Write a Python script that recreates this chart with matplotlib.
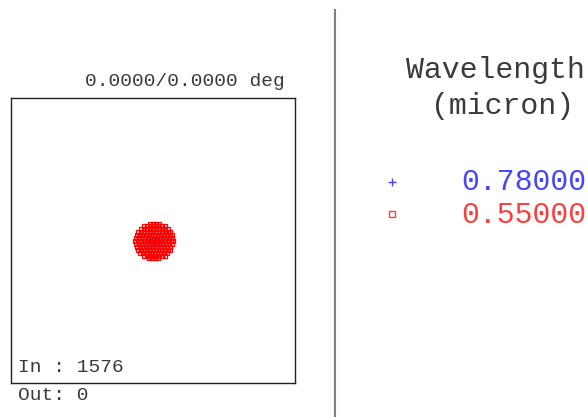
import matplotlib
matplotlib.use("Agg")
import matplotlib.pyplot as plt

# spot diagram rows: y position -> x positions of the rays (um)
spot_rows = {
    17: [-4, -1, 2, 5],
    15: [-10, -7, -4, -1, 2, 5, 8, 11],
    12: [-13, -10, -7, -4, -1, 2, 5, 8, 11, 14],
    9: [-16, -13, -10, -7, -4, -1, 2, 5, 8, 11, 14, 16],
    6: [-17, -14, -11, -8, -5, -2, 1, 4, 7, 10, 13, 16, 18],
    3: [-18, -15, -12, -9, -6, -3, 0, 3, 6, 9, 12, 15, 18],
    0: [-19, -16, -13, -10, -7, -4, -1, 2, 5, 8, 11, 14, 17, 19],
    -3: [-18, -15, -12, -9, -6, -3, 0, 3, 6, 9, 12, 15, 18],
    -6: [-17, -14, -11, -8, -5, -2, 1, 4, 7, 10, 13, 16],
    -9: [-16, -13, -10, -7, -4, -1, 2, 5, 8, 11, 14, 16],
    -12: [-14, -11, -8, -5, -2, 1, 4, 7, 10, 13],
    -15: [-10, -7, -4, -1, 2, 5, 8, 11],
    -17: [-5, -2, 1, 4],
}
# rays of the 0.78 um wavelength (hidden under the 0.55 um rays)
blue_x = [-6, -3, 0, 3, 6, 0, 0]
blue_y = [0, 0, 0, 0, 0, -3, 3]

wavelengths = ["0.78000", "0.55000"]
colors = ["#4444ff", "#ff3c3c"]
field_label = "0.0000/0.0000 deg"
rays_in = 1576
rays_out = 0

W, H = 588, 417
txt = "#3a3a3a"
font = "Liberation Mono"

fig = plt.figure(figsize=(W / 100, H / 100), dpi=100)

# spot box
ax = fig.add_axes([11 / W, 1 - 383 / H, 284 / W, 285 / H])
red_x = []
red_y = []
for y, xs in spot_rows.items():
    for x in xs:
        red_x.append(x)
        red_y.append(y)
ax.plot(blue_x, blue_y, "+", color=colors[0], markersize=4, markeredgewidth=0.8)
ax.plot(red_x, red_y, "s", markerfacecolor="none", markeredgecolor="red",
        markersize=3.4, markeredgewidth=0.9)
ax.set_xlim(-143, 141)
ax.set_ylim(-142, 143)
ax.set_xticks([])
ax.set_yticks([])
for s in ax.spines.values():
    s.set_color("#222222")
    s.set_linewidth(1)

fig.text(285 / W, 1 - 82 / H, field_label, ha="right", va="center",
         family=font, fontsize=14, color=txt)
fig.text(18 / W, 1 - 367 / H, "In : %d" % rays_in, ha="left", va="center",
         family=font, fontsize=14, color=txt)
fig.text(18 / W, 1 - 396 / H, "Out: %d" % rays_out, ha="left", va="center",
         family=font, fontsize=14, color=txt)

# separator
fig.add_artist(plt.Line2D([335 / W, 335 / W], [0, 1 - 10 / H],
                          color="#808080", linewidth=1.5))

# legend
fig.text(406 / W, 1 - 70 / H, "Wavelength", ha="left", va="center",
         family=font, fontsize=21.5, color=txt)
fig.text(431 / W, 1 - 106 / H, "(micron)", ha="left", va="center",
         family=font, fontsize=21.5, color=txt)
markers = ["+", "s"]
for i, wl in enumerate(wavelengths):
    yy = 1 - (182 + 33 * i) / H
    if markers[i] == "s":
        fig.add_artist(plt.Line2D([392 / W], [yy + 1 / H], marker="s",
                                  markerfacecolor="none", markeredgecolor=colors[i],
                                  markersize=4, markeredgewidth=1))
    else:
        fig.add_artist(plt.Line2D([392 / W], [yy], marker="+",
                                  color=colors[i], markersize=6, markeredgewidth=1))
    fig.text(461 / W, yy, wl, ha="left", va="center",
             family=font, fontsize=21.5, color=colors[i])

fig.savefig("out.png", dpi=100)
